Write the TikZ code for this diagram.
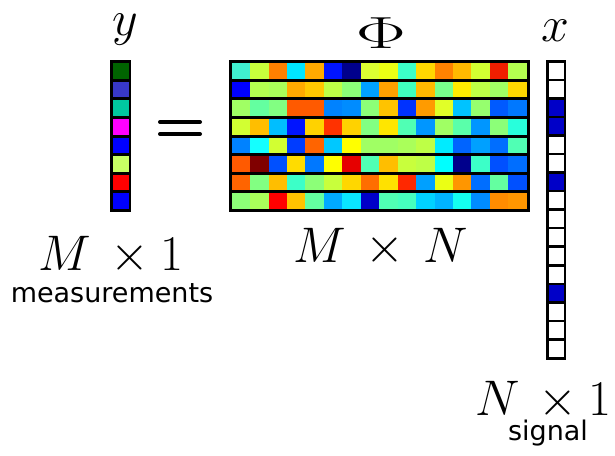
\RequirePackage{fix-cm}
\documentclass[tikz,border=0pt]{standalone}
\usepackage[no-math]{fontspec}
\usepackage{graphicx}
\newfontfamily\labelfont{DejaVu Sans}
\begin{document}
\begin{tikzpicture}[x=1pt,y=-1pt,
  mathlbl/.style={inner sep=0pt, font=\fontsize{50}{58}\selectfont},
  wordlbl/.style={inner sep=0pt, font=\labelfont\fontsize{27}{31}\selectfont},
  framefill/.style={fill=black},
  eqbar/.style={line width=4pt, line cap=round}]
\useasboundingbox (0,0) rectangle (615,455);
\fill[white] (0,0) rectangle (615,455);

% ---- Phi matrix (8 x 16) ----
\fill[framefill] (229,60) rectangle (530,212);
\foreach \rowcols [count=\i from 0] in {
 {40F0D0,C8FF3C,FF8000,00E6FF,FFAA00,0014FF,00008C,DCFF32,EBFF14,3CFFC8,FFD700,FF8200,FFB900,D2FF32,F01E00,B4FF50},
 {0000FF,B4FF50,AAFF5A,FFAA00,FFC800,BEFF46,8CFF78,00A0FF,FFA000,40FFBE,FFB900,78FF8C,FFEB00,BEFF46,A0FF64,FFD700},
 {A0FF64,64FFA0,82FF82,FF5A00,FF5A00,0082FF,008CFF,8CFF78,FFC300,0032FF,FF9B00,E1FF28,00C3FF,96FF6E,005AFF,0078FF},
 {D2FF32,FFBE00,00BEFF,0014FF,FFD200,FF3200,FFD200,82FF82,FFE600,50FFB4,0096FF,A0FF64,5AFFAA,0096FF,8CFF78,28FFDC},
 {0082FF,14FFFF,D2FF32,003CFF,FF6400,00C8FF,FFFF00,A0FF64,A0FF64,AAFF5A,BEFF46,00EBFF,0064FF,00A0FF,006EFF,50FFB4},
 {FF5A00,800000,0050FF,FFDC00,0078FF,FFFF00,E60000,50FFB4,FFBE00,C8FF3C,BEFF46,00FFFF,00008C,3CFFC8,0050FF,006EFF},
 {FF6400,82FF82,FFBE00,3CFFC8,8CFF78,C8FF3C,FFD700,FF6E00,FFE100,FF2800,00A0FF,EBFF14,FF9600,006EFF,64FFA0,0050FF},
 {8CFF78,AAFF5A,FF0000,FFC300,64FFA0,00AAFF,0AE6FF,0000C8,50FFB4,46FFBE,00D2FF,00B4FF,14FFF0,008CFF,FF8C00,FF9600}} {
  \foreach \hexc [count=\j from 0] in \rowcols {
    \definecolor{cellc}{HTML}{\hexc}
    \fill[cellc] ({231.7+18.44*\j},{63.3+18.57*\i}) rectangle ++(18.5,15.6);
  }
}

% ---- y vector (8 x 1) ----
\fill[framefill] (110,60) rectangle (131,212);
\foreach \hexc [count=\i from 0] in {006400,3838C8,00C8A0,FF00FF,0000FF,C8FF64,FF0000,0000FF} {
  \definecolor{cellc}{HTML}{\hexc}
  \fill[cellc] (112.5,{63.3+18.57*\i}) rectangle ++(16,15.6);
}

% ---- x vector (16 x 1) ----
\fill[framefill] (546,60) rectangle (566,360);
\foreach \hexc [count=\i from 0] in {FFFFFF,FFFFFF,0000C8,0000C8,FFFFFF,FFFFFF,0000C8,FFFFFF,FFFFFF,FFFFFF,FFFFFF,FFFFFF,0000C8,FFFFFF,FFFFFF,FFFFFF} {
  \definecolor{cellc}{HTML}{\hexc}
  \fill[cellc] (548.5,{62.5+18.55*\i}) rectangle ++(15,16);
}

% ---- equals sign ----
\draw[eqbar] (160,122) -- (200,122);
\draw[eqbar] (160,134) -- (200,134);

% ---- labels ----
\node[mathlbl, anchor=base] (ylab) at (125,35) {$y$};
\node[mathlbl, anchor=base] (philab) at (381,48) {\scalebox{1.5}[0.9]{$\Phi$}};
\node[mathlbl, anchor=base] (xlab) at (555,41) {$x$};
\node[mathlbl, anchor=base] (ydim) at (111,270) {$M\,\times 1$};
\node[wordlbl, anchor=base] (ymeas) at (112,302) {measurements};
\node[mathlbl, anchor=base] (phidim) at (381,262) {$M\,\times\,N$};
\node[mathlbl, anchor=base east] (xdim) at (612,415) {$N\,\times 1$};
\node[wordlbl, anchor=base] (xsig) at (548,440) {signal};
\end{tikzpicture}
\end{document}
